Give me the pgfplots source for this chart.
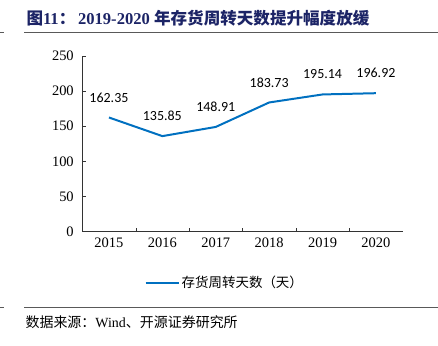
\documentclass[border=0pt]{standalone}
\usepackage{pgfplots}
\pgfplotsset{compat=1.18}
\usepackage{fontspec}
\setmainfont{Liberation Serif}
\newfontfamily\cjk{Noto Sans CJK SC}
\newfontfamily\lab{Carlito}
\definecolor{lineblue}{RGB}{0,112,192}
\definecolor{navy}{RGB}{28,36,102}
\begin{document}
\begin{tikzpicture}
\path (0pt,0pt) rectangle (438pt,346pt);
% title
\node[anchor=west,text=navy,font=\fontsize{16.6}{18}\selectfont\bfseries,inner sep=0] at (26pt,328pt) {{\cjk 图}11{\cjk ：}\,2019-2020 {\cjk 年存货周转天数提升幅度放缓}};
\draw[gray!70!black,line width=0.8pt] (24pt,314pt) -- (438pt,314pt);
\draw[gray!70!black,line width=0.8pt] (0pt,314pt) -- (4pt,314pt);
% footer
\draw[gray!70!black,line width=0.8pt] (24pt,38pt) -- (438pt,38pt);
\draw[gray!70!black,line width=0.8pt] (0pt,38pt) -- (4pt,38pt);
\node[anchor=west,font=\fontsize{14}{16}\selectfont,inner sep=0] at (25pt,23pt) {{\cjk 数据来源：}Wind{\cjk 、开源证券研究所}};
\begin{axis}[
  at={(82pt,114pt)}, anchor=south west,
  scale only axis, width=321pt, height=176pt,
  xmin=-0.5, xmax=5.5, ymin=0, ymax=250,
  axis lines=left, axis line style={-, black!80},
  xtick={0,1,2,3,4,5},
  xticklabels={2015,2016,2017,2018,2019,2020},
  minor xtick={0.5,1.5,2.5,3.5,4.5},
  major x tick style={draw=none},
  minor tick length=4pt,
  ytick={0,50,...,250},
  tick align=inside,
  tick style={black!80},
  major tick length=4pt,
  ticklabel style={font=\fontsize{14.5}{16}\selectfont},
  /pgf/number format/assume math mode=true,
  yticklabel style={xshift=-5pt},
  xticklabel style={yshift=-3pt},
  legend style={draw=none, at={(0.445,-0.29)}, anchor=center, font=\fontsize{13.5}{15}\selectfont\cjk, legend cell align=left},
  legend image code/.code={\draw[line width=2pt,lineblue] (0pt,0pt) -- (33pt,0pt);},
  clip=false,
]
\addplot[lineblue, line width=2pt, no markers,
  nodes near coords, point meta=explicit symbolic,
  every node near coord/.append style={font=\fontsize{14}{16}\selectfont\lab, text=black, anchor=center, yshift=20pt}]
  table[meta=lab] {
x y lab
0 162.35 162.35
1 135.85 135.85
2 148.91 148.91
3 183.73 183.73
4 195.14 195.14
5 196.92 196.92
};
\addlegendentry{存货周转天数（天）}
\end{axis}
\end{tikzpicture}
\end{document}
